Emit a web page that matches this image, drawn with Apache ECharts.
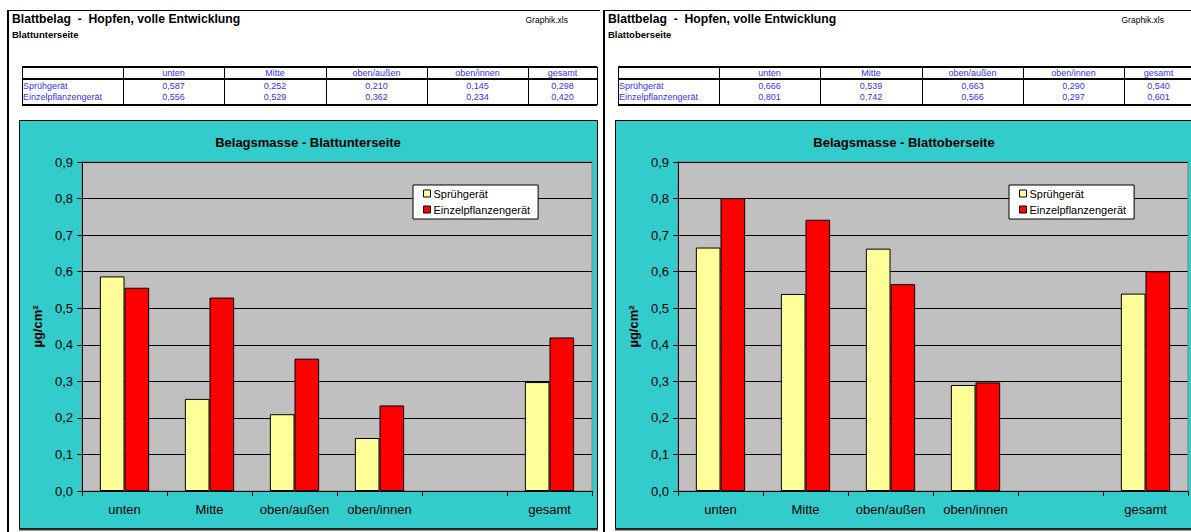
<!DOCTYPE html>
<html>
<head>
<meta charset="utf-8">
<script src="https://cdn.jsdelivr.net/npm/echarts@6/dist/echarts.min.js"></script>
<style>
html,body{margin:0;padding:0;background:#fff;}
#c{width:1191px;height:532px;}
</style>
</head>
<body>
<div id="c"></div>
<script>
// ---- data ----
var categories = ['unten', 'Mitte', 'oben/außen', 'oben/innen', '', 'gesamt'];
var tableColumns = ['unten', 'Mitte', 'oben/außen', 'oben/innen', 'gesamt'];
var seriesNames = ['Sprühgerät', 'Einzelpflanzengerät'];
var unterseiteSpruehgeraet = [0.587, 0.252, 0.210, 0.145, null, 0.298];
var unterseiteEinzelpflanzengeraet = [0.556, 0.529, 0.362, 0.234, null, 0.420];
var oberseiteSpruehgeraet = [0.666, 0.539, 0.663, 0.290, null, 0.540];
var oberseiteEinzelpflanzengeraet = [0.801, 0.742, 0.566, 0.297, null, 0.601];
var yMin = 0, yMax = 0.9, yInterval = 0.1;
var pageTitle = 'Blattbelag  -  Hopfen, volle Entwicklung';
var fileName = 'Graphik.xls';
var panelSubtitles = ['Blattunterseite', 'Blattoberseite'];
var chartTitles = ['Belagsmasse - Blattunterseite', 'Belagsmasse - Blattoberseite'];
var yAxisName = 'µg/cm²';

// ---- layout / style ----
var FONT = "'Liberation Sans', Arial, sans-serif";
var panelOffsets = [0, 596];
var panelData = [
  [unterseiteSpruehgeraet, unterseiteEinzelpflanzengeraet],
  [oberseiteSpruehgeraet, oberseiteEinzelpflanzengeraet]
];
var colors = ['#FFFF99', '#FF0000'];
var tableBlue = '#3333FF';

function fmt(v) { return v.toFixed(3).replace('.', ','); }

var graphic = [];
var grids = [], xAxes = [], yAxes = [], series = [], legends = [];

panelOffsets.forEach(function (dx, p) {
  // page frame
  graphic.push({type: 'line', z: -20, shape: {x1: dx + 8, y1: 10.5, x2: Math.min(dx + 600, 1191), y2: 10.5}, style: {stroke: '#000', lineWidth: 1}});
  graphic.push({type: 'line', z: -20, shape: {x1: dx + 8, y1: 10, x2: dx + 8, y2: 532}, style: {stroke: '#000', lineWidth: 2}});
  // page texts
  graphic.push({type: 'text', z: 5, style: {text: pageTitle, x: dx + 12, y: 19, font: 'bold 12.2px ' + FONT, fill: '#000', textAlign: 'left', textVerticalAlign: 'middle', align: 'left', verticalAlign: 'middle'}});
  graphic.push({type: 'text', z: 5, style: {text: fileName, x: dx + 568, y: 20, font: '8.5px ' + FONT, fill: '#000', textAlign: 'right', textVerticalAlign: 'middle', align: 'right', verticalAlign: 'middle'}});
  graphic.push({type: 'text', z: 5, style: {text: panelSubtitles[p], x: dx + 12, y: 34, font: 'bold 9.5px ' + FONT, fill: '#000', textAlign: 'left', textVerticalAlign: 'middle', align: 'left', verticalAlign: 'middle'}});

  // table
  var cols = [22, 123, 224, 326, 427, 528, 597];
  var tTop = 67, tHead = 79, tBot = 105;
  graphic.push({type: 'line', shape: {x1: dx + 22, y1: tTop, x2: dx + 597, y2: tTop}, style: {stroke: '#000', lineWidth: 2}});
  graphic.push({type: 'line', shape: {x1: dx + 22, y1: tHead, x2: dx + 597, y2: tHead}, style: {stroke: '#000', lineWidth: 2}});
  graphic.push({type: 'line', shape: {x1: dx + 22, y1: tBot, x2: dx + 597, y2: tBot}, style: {stroke: '#000', lineWidth: 2}});
  cols.forEach(function (cx) {
    graphic.push({type: 'line', shape: {x1: dx + cx + 0.5, y1: tTop, x2: dx + cx + 0.5, y2: tBot}, style: {stroke: '#000', lineWidth: 1}});
  });
  tableColumns.forEach(function (name, i) {
    var cx = dx + (cols[i + 1] + cols[i + 2]) / 2;
    graphic.push({type: 'text', style: {text: name, x: cx, y: 73, font: '9px ' + FONT, fill: tableBlue, textAlign: 'center', textVerticalAlign: 'middle', align: 'center', verticalAlign: 'middle'}});
  });
  seriesNames.forEach(function (sn, r) {
    var ry = 86 + r * 11;
    graphic.push({type: 'text', style: {text: sn, x: dx + 23, y: ry, font: '9px ' + FONT, fill: tableBlue, textAlign: 'left', textVerticalAlign: 'middle', align: 'left', verticalAlign: 'middle'}});
    var vals = panelData[p][r].filter(function (v) { return v !== null; });
    vals.forEach(function (v, i) {
      var cx = dx + (cols[i + 1] + cols[i + 2]) / 2;
      graphic.push({type: 'text', style: {text: fmt(v), x: cx, y: ry, font: '9px ' + FONT, fill: tableBlue, textAlign: 'center', textVerticalAlign: 'middle', align: 'center', verticalAlign: 'middle'}});
    });
  });

  // chart box
  graphic.push({type: 'rect', z: -10, shape: {x: dx + 19.5, y: 120.5, width: 578, height: 408}, style: {fill: '#33CCCC', stroke: '#000', lineWidth: 1}});
  graphic.push({type: 'line', z: -9, shape: {x1: dx + 19, y1: 529.5, x2: dx + 598, y2: 529.5}, style: {stroke: '#333', lineWidth: 2}});
  graphic.push({type: 'text', z: 5, style: {text: chartTitles[p], x: dx + 308, y: 142, font: 'bold 13px ' + FONT, fill: '#000', textAlign: 'center', textVerticalAlign: 'middle', align: 'center', verticalAlign: 'middle'}});

  grids.push({left: dx + 82, top: 162, width: 510, height: 329, show: true, backgroundColor: '#C0C0C0', borderColor: '#808080', borderWidth: 1, containLabel: false});
  xAxes.push({
    type: 'category', gridIndex: p, data: categories,
    axisLine: {lineStyle: {color: '#000', width: 1}},
    axisTick: {show: true, alignWithLabel: false, length: 5, lineStyle: {color: '#000'}},
    axisLabel: {color: '#000', fontSize: 13, fontFamily: FONT, margin: 12, interval: 0},
    splitLine: {show: false}
  });
  yAxes.push({
    type: 'value', gridIndex: p, min: yMin, max: yMax, interval: yInterval,
    name: yAxisName, nameLocation: 'middle', nameGap: 38, nameRotate: 90,
    nameTextStyle: {fontSize: 13, fontWeight: 'bold', fontFamily: FONT, color: '#000'},
    axisLine: {show: true, lineStyle: {color: '#000', width: 1}},
    axisTick: {show: true, inside: false, length: 5, lineStyle: {color: '#000'}},
    axisLabel: {color: '#000', fontSize: 13, fontFamily: FONT, margin: 9,
      formatter: function (v) { return v.toFixed(1).replace('.', ','); }},
    splitLine: {show: true, lineStyle: {color: '#000', width: 1}}
  });
  seriesNames.forEach(function (sn, s) {
    series.push({
      type: 'bar', name: sn, xAxisIndex: p, yAxisIndex: p,
      data: panelData[p][s],
      barGap: '0%', barCategoryGap: '42%',
      itemStyle: {color: colors[s], borderColor: '#000', borderWidth: 1},
      emphasis: {disabled: true},
      animation: false
    });
  });
  legends.push({
    data: seriesNames, orient: 'vertical', left: dx + 413, top: 185,
    backgroundColor: '#FFFFFF', borderColor: '#000', borderWidth: 1,
    padding: [3, 8, 4, 10], itemGap: 5, itemWidth: 7, itemHeight: 7, icon: 'rect',
    itemStyle: {borderColor: '#000', borderWidth: 1},
    textStyle: {fontSize: 11, fontFamily: FONT, color: '#000', padding: [0, 0, 0, -2]},
    selectedMode: false
  });
});

var chart = echarts.init(document.getElementById('c'), null, {renderer: 'svg'});
chart.setOption({
  animation: false,
  textStyle: {fontFamily: FONT},
  grid: grids, xAxis: xAxes, yAxis: yAxes, series: series, legend: legends,
  graphic: graphic
});
</script>
</body>
</html>
